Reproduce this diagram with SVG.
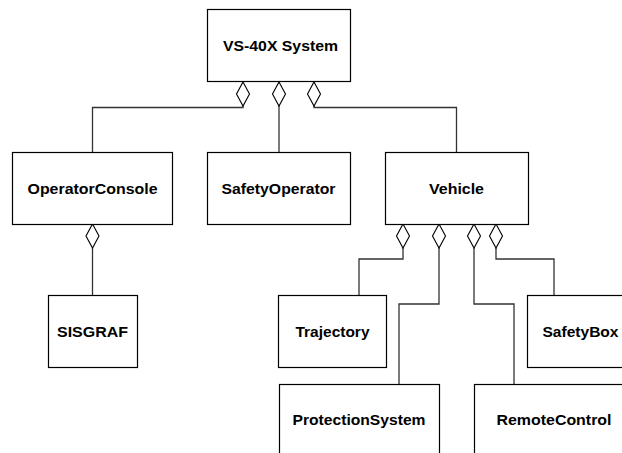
<svg xmlns="http://www.w3.org/2000/svg" width="622" height="453" viewBox="0 0 622 453">
  <style>
    .box { fill: #ffffff; stroke: #000000; stroke-width: 1.2; }
    .label { font-family: "Liberation Sans", Arial, sans-serif; font-weight: bold; font-size: 15px; fill: #000000; text-anchor: middle; }
    .wire { fill: none; stroke: #333333; stroke-width: 1.3; }
    .agg { fill: #ffffff; stroke: #000000; stroke-width: 1.1; }
  </style>
  <defs>
    <!-- aggregation diamond, anchored at its top point -->
    <polygon id="diamond" points="0,0 6.5,12 0,24 -6.5,12"/>
  </defs>
  <rect width="622" height="453" fill="#ffffff"/>

  <g id="connectors">
    <path class="wire" d="M243,105 V107.5 H92.5 V152"/>
    <path class="wire" d="M279,105 V152"/>
    <path class="wire" d="M314,105 V107.5 H456.5 V152"/>
    <path class="wire" d="M92.5,248 V295"/>
    <path class="wire" d="M403,248 V259 H359 V295"/>
    <path class="wire" d="M439,248 V304 H399 V384"/>
    <path class="wire" d="M474,248 V304 H514 V384"/>
    <path class="wire" d="M496,248 V259 H554 V295"/>
    <use href="#diamond" class="agg" x="243" y="82"/>
    <use href="#diamond" class="agg" x="279" y="82"/>
    <use href="#diamond" class="agg" x="314" y="82"/>
    <use href="#diamond" class="agg" x="92.5" y="224"/>
    <use href="#diamond" class="agg" x="403" y="224"/>
    <use href="#diamond" class="agg" x="439" y="224"/>
    <use href="#diamond" class="agg" x="474" y="224"/>
    <use href="#diamond" class="agg" x="496" y="224"/>
  </g>

  <g id="vs40x-system">
    <rect class="box" x="207.5" y="9.5" width="143" height="72"/>
    <text class="label" x="280.5" y="50.5" textLength="115" lengthAdjust="spacingAndGlyphs">VS-40X System</text>
  </g>
  <g id="operator-console">
    <rect class="box" x="12.5" y="152.5" width="160" height="72"/>
    <text class="label" x="92.5" y="193.5" textLength="130" lengthAdjust="spacingAndGlyphs">OperatorConsole</text>
  </g>
  <g id="safety-operator">
    <rect class="box" x="207.5" y="152.5" width="143" height="72"/>
    <text class="label" x="278.5" y="193.5" textLength="114" lengthAdjust="spacingAndGlyphs">SafetyOperator</text>
  </g>
  <g id="vehicle">
    <rect class="box" x="385.5" y="152.5" width="143" height="72"/>
    <text class="label" x="456.5" y="193.5" textLength="55" lengthAdjust="spacingAndGlyphs">Vehicle</text>
  </g>
  <g id="sisgraf">
    <rect class="box" x="48.5" y="295.5" width="89" height="72"/>
    <text class="label" x="92.5" y="336.5" textLength="71" lengthAdjust="spacingAndGlyphs">SISGRAF</text>
  </g>
  <g id="trajectory">
    <rect class="box" x="278.5" y="295.5" width="108" height="72"/>
    <text class="label" x="332.5" y="336.5" textLength="74" lengthAdjust="spacingAndGlyphs">Trajectory</text>
  </g>
  <g id="safety-box">
    <rect class="box" x="527.5" y="295.5" width="108" height="72"/>
    <text class="label" x="580.5" y="336.5" textLength="76" lengthAdjust="spacingAndGlyphs">SafetyBox</text>
  </g>
  <g id="protection-system">
    <rect class="box" x="279.5" y="384.5" width="160" height="72"/>
    <text class="label" x="359" y="425" textLength="133" lengthAdjust="spacingAndGlyphs">ProtectionSystem</text>
  </g>
  <g id="remote-control">
    <rect class="box" x="474.5" y="384.5" width="160" height="72"/>
    <text class="label" x="554" y="425" textLength="115" lengthAdjust="spacingAndGlyphs">RemoteControl</text>
  </g>
</svg>
